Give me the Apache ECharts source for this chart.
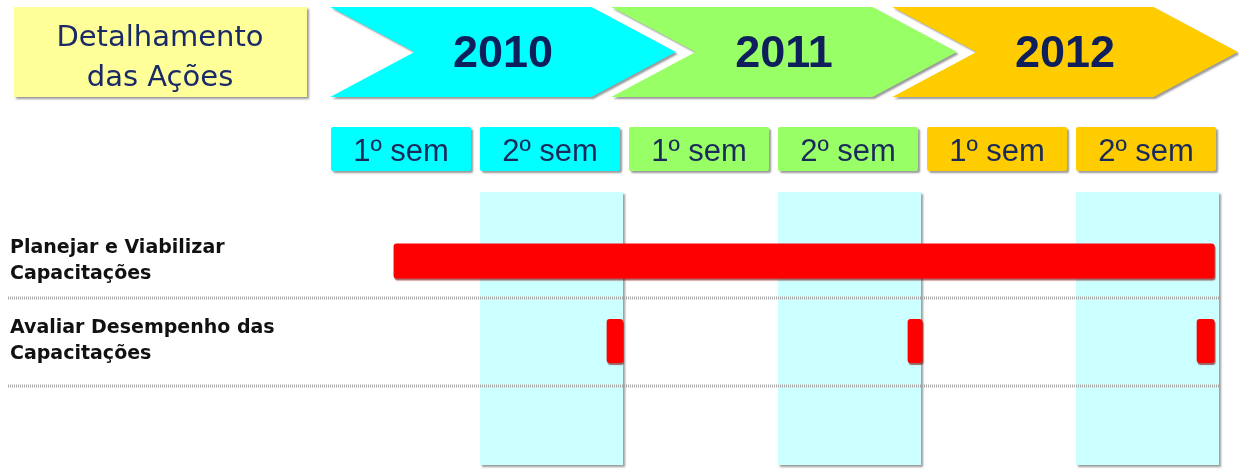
<!DOCTYPE html>
<html lang="pt">
<head>
    <meta charset="UTF-8">
    <title>Detalhamento das Ações</title>
    <script src="https://cdn.jsdelivr.net/npm/echarts@6/dist/echarts.min.js"></script>
    <style>
        html, body { margin: 0; padding: 0; background: #fff; }
        #chart { width: 1239px; height: 470px; }
    </style>
</head>
<body>
<div id="chart"></div>
<script>
    // dados
    var years = ['2010', '2011', '2012'];
    var semesters = ['1º sem', '2º sem', '1º sem', '2º sem', '1º sem', '2º sem'];
    var shadedSemesters = [1, 3, 5];
    var activities = ['Planejar e Viabilizar\nCapacitações', 'Avaliar Desempenho das\nCapacitações'];
    // [linha, início, fim] em semestres a partir de jan/2010
    var tasks = [
        [0, 0.42, 5.93],
        [1, 1.85, 1.96],
        [1, 3.87, 3.97],
        [1, 5.81, 5.93]
    ];

    var yearColors = ['#00FFFF', '#99FF66', '#FFCC00'];
    var navy = '#0E1F5B';
    var shadow = { shadowColor: 'rgba(0,0,0,0.4)', shadowOffsetX: 2, shadowOffsetY: 2, shadowBlur: 2 };
    var sepGap = [37, 45];   // distância do centro da linha até o pontilhado
    var barHeight = [35, 44];

    var chart = echarts.init(document.getElementById('chart'));

    var option = {
        animation: false,
        grid: [
            { left: 362.5, width: 843, top: 7, height: 90 },   // setas dos anos
            { left: 331, width: 894, top: 221, height: 160 }  // cronograma
        ],
        xAxis: [
            { gridIndex: 0, type: 'value', min: 0, max: 3, show: false },
            { gridIndex: 1, type: 'value', min: 0, max: 6, show: false }
        ],
        yAxis: [
            { gridIndex: 0, type: 'value', min: 0, max: 1, show: false },
            {
                gridIndex: 1, type: 'category', data: activities, inverse: true,
                axisLine: { show: false }, axisTick: { show: false }, splitLine: { show: false },
                axisLabel: {
                    align: 'left', margin: 321,
                    fontFamily: 'DejaVu Sans', fontWeight: 'bold', fontSize: 19,
                    lineHeight: 26, color: '#111'
                }
            }
        ],
        graphic: [{
            type: 'group', left: 14, top: 7,
            children: [{
                type: 'rect', shape: { x: 0, y: 0, width: 293, height: 90 },
                style: Object.assign({ fill: '#FFFF99' }, shadow)
            }, {
                type: 'text', x: 146, y: 51,
                style: {
                    text: 'Detalhamento\ndas Ações', fill: '#1A2A66',
                    fontFamily: 'DejaVu Sans', fontSize: 29, lineHeight: 40,
                    align: 'center', verticalAlign: 'middle'
                }
            }]
        }],
        series: [
            {
                // setas com os anos
                type: 'custom', xAxisIndex: 0, yAxisIndex: 0, silent: true,
                data: years.map(function (y, i) { return [i]; }),
                renderItem: function (params, api) {
                    var i = api.value(0);
                    var c = api.coord([i + 0.5, 0.5]);
                    var hw = api.size([1.23, 0])[0] / 2;
                    var nd = api.size([0.3, 0])[0];
                    var h = api.size([0, 1])[1];
                    var t = c[1] - h / 2, b = c[1] + h / 2;
                    return {
                        type: 'group',
                        children: [{
                            type: 'polygon',
                            shape: { points: [[c[0] - hw, t], [c[0] + hw - nd, t], [c[0] + hw, c[1]],
                                [c[0] + hw - nd, b], [c[0] - hw, b], [c[0] - hw + nd, c[1]]] },
                            style: Object.assign({ fill: yearColors[i] }, shadow)
                        }, {
                            type: 'text', x: c[0], y: c[1] + 3,
                            style: {
                                text: years[i], fill: navy, fontFamily: 'Liberation Sans',
                                fontWeight: 'bold', fontSize: 45, align: 'center', verticalAlign: 'middle'
                            }
                        }]
                    };
                }
            },
            {
                // colunas destacadas (2º semestre)
                type: 'custom', xAxisIndex: 1, yAxisIndex: 1, silent: true, z: 1,
                data: shadedSemesters.map(function (s) { return [s]; }),
                renderItem: function (params, api) {
                    var s = api.value(0);
                    var x0 = api.coord([s, 0])[0];
                    var x1 = api.coord([s + 0.96, 0])[0];
                    var top = params.coordSys.y;
                    return {
                        type: 'rect',
                        shape: { x: x0, y: top - 29, width: x1 - x0, height: 273 },
                        style: Object.assign({ fill: '#CCFFFF' }, shadow)
                    };
                }
            },
            {
                // caixas dos semestres
                type: 'custom', xAxisIndex: 1, yAxisIndex: 1, silent: true, z: 2,
                data: semesters.map(function (s, i) { return [i]; }),
                renderItem: function (params, api) {
                    var i = api.value(0);
                    var x0 = api.coord([i, 0])[0];
                    var x1 = api.coord([i + 0.94, 0])[0];
                    var top = params.coordSys.y - 94;
                    return {
                        type: 'group',
                        children: [{
                            type: 'rect',
                            shape: { x: x0, y: top, width: x1 - x0, height: 44, r: 2 },
                            style: Object.assign({ fill: yearColors[Math.floor(i / 2)] }, shadow)
                        }, {
                            type: 'text', x: (x0 + x1) / 2, y: top + 25,
                            style: {
                                text: semesters[i], fill: '#1A2A5A', fontFamily: 'Liberation Sans',
                                fontSize: 31, align: 'center', verticalAlign: 'middle'
                            }
                        }]
                    };
                }
            },
            {
                // linhas pontilhadas entre as ações
                type: 'custom', xAxisIndex: 1, yAxisIndex: 1, silent: true, z: 3,
                data: activities.map(function (a, i) { return [0, i]; }),
                renderItem: function (params, api) {
                    var row = api.value(1);
                    var y = api.coord([0, row])[1] + sepGap[row];
                    var x1 = api.coord([5.96, 0])[0];
                    return {
                        type: 'line',
                        shape: { x1: 8, y1: y, x2: x1, y2: y },
                        style: { stroke: '#A8A8A8', lineWidth: 3, lineDash: [1, 1] }
                    };
                }
            },
            {
                // barras das ações
                type: 'custom', xAxisIndex: 1, yAxisIndex: 1, silent: true, z: 4,
                data: tasks,
                renderItem: function (params, api) {
                    var row = api.value(0);
                    var p0 = api.coord([api.value(1), row]);
                    var p1 = api.coord([api.value(2), row]);
                    var h = barHeight[row];
                    return {
                        type: 'rect',
                        shape: { x: p0[0], y: p0[1] - h / 2, width: p1[0] - p0[0], height: h, r: 3 },
                        style: { fill: '#FF0000', shadowColor: 'rgba(120,0,0,0.6)', shadowOffsetY: 2, shadowOffsetX: 1, shadowBlur: 1 }
                    };
                }
            }
        ]
    };

    chart.setOption(option);
</script>
</body>
</html>
